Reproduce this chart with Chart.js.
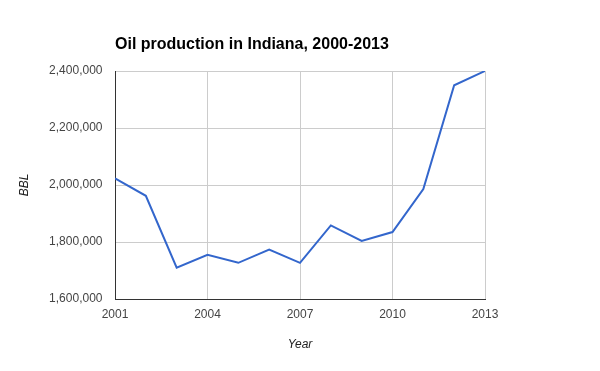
<!DOCTYPE html>
<html>
<head>
<meta charset="utf-8">
<script src="https://cdn.jsdelivr.net/npm/chart.js@4"></script>
<style>
  html, body { margin: 0; padding: 0; background: #fff; }
  #wrap { width: 600px; height: 371px; position: relative; }
</style>
</head>
<body>
<div id="wrap"><canvas id="c" width="600" height="371"></canvas></div>
<script>
const years = [2001, 2002, 2003, 2004, 2005, 2006, 2007, 2008, 2009, 2010, 2011, 2012, 2013];
const production = [2023000, 1962000, 1710000, 1755000, 1727000, 1773000, 1727000, 1858000, 1804000, 1835000, 1986000, 2350000, 2400000];
const yTicks = [1600000, 1800000, 2000000, 2200000, 2400000];
const xTicks = [2001, 2004, 2007, 2010, 2013];

const FONT = 'Arial, "Liberation Sans", sans-serif';

const titleLeftPlugin = {
  id: 'titleLeft',
  afterLayout(chart) {
    if (chart.titleBlock) {
      chart.titleBlock.left = chart.chartArea.left;
      chart.titleBlock.right = chart.width;
    }
  }
};

new Chart(document.getElementById('c'), {
  type: 'line',
  data: {
    datasets: [{
      label: 'BBL',
      data: years.map((y, i) => ({ x: y, y: production[i] })),
      borderColor: '#3366cc',
      borderWidth: 2,
      pointRadius: 0,
      tension: 0,
      fill: false
    }]
  },
  options: {
    responsive: false,
    animation: false,
    devicePixelRatio: 1,
    layout: { padding: { left: 0, right: 115, top: 0, bottom: 0 } },
    plugins: {
      legend: { display: false },
      tooltip: { enabled: false },
      title: {
        display: true,
        text: 'Oil production in Indiana, 2000-2013',
        align: 'start',
        color: '#000',
        font: { family: FONT, size: 16, weight: 'bold' },
        padding: { top: 35.4, bottom: 16.4 }
      }
    },
    scales: {
      x: {
        type: 'linear',
        min: years[0],
        max: years[years.length - 1],
        afterBuildTicks(scale) { scale.ticks = xTicks.map(v => ({ value: v })); },
        afterFit(scale) { scale.height = 72; },
        ticks: {
          color: '#444',
          font: { family: FONT, size: 12 },
          padding: 8,
          maxRotation: 0,
          autoSkip: false,
          callback: v => String(v)
        },
        grid: { color: '#cccccc', lineWidth: 1, drawTicks: false },
        border: { color: '#333333', width: 1 },
        title: {
          display: true,
          text: 'Year',
          color: '#222',
          font: { family: FONT, size: 12, style: 'italic' },
          padding: { top: 0, bottom: 19 }
        }
      },
      y: {
        min: yTicks[0],
        max: yTicks[yTicks.length - 1],
        afterBuildTicks(scale) { scale.ticks = yTicks.map(v => ({ value: v })); },
        afterFit(scale) { scale.width = 115; },
        ticks: {
          color: '#444',
          font: { family: FONT, size: 12 },
          padding: 12.5,
          callback: v => v.toLocaleString('en-US')
        },
        grid: { color: '#cccccc', lineWidth: 1, drawTicks: false },
        border: { color: '#333333', width: 1 },
        title: {
          display: true,
          text: 'BBL',
          color: '#222',
          font: { family: FONT, size: 12, style: 'italic' },
          padding: { top: 17, bottom: 0 }
        }
      }
    }
  },
  plugins: [titleLeftPlugin]
});
</script>
</body>
</html>
